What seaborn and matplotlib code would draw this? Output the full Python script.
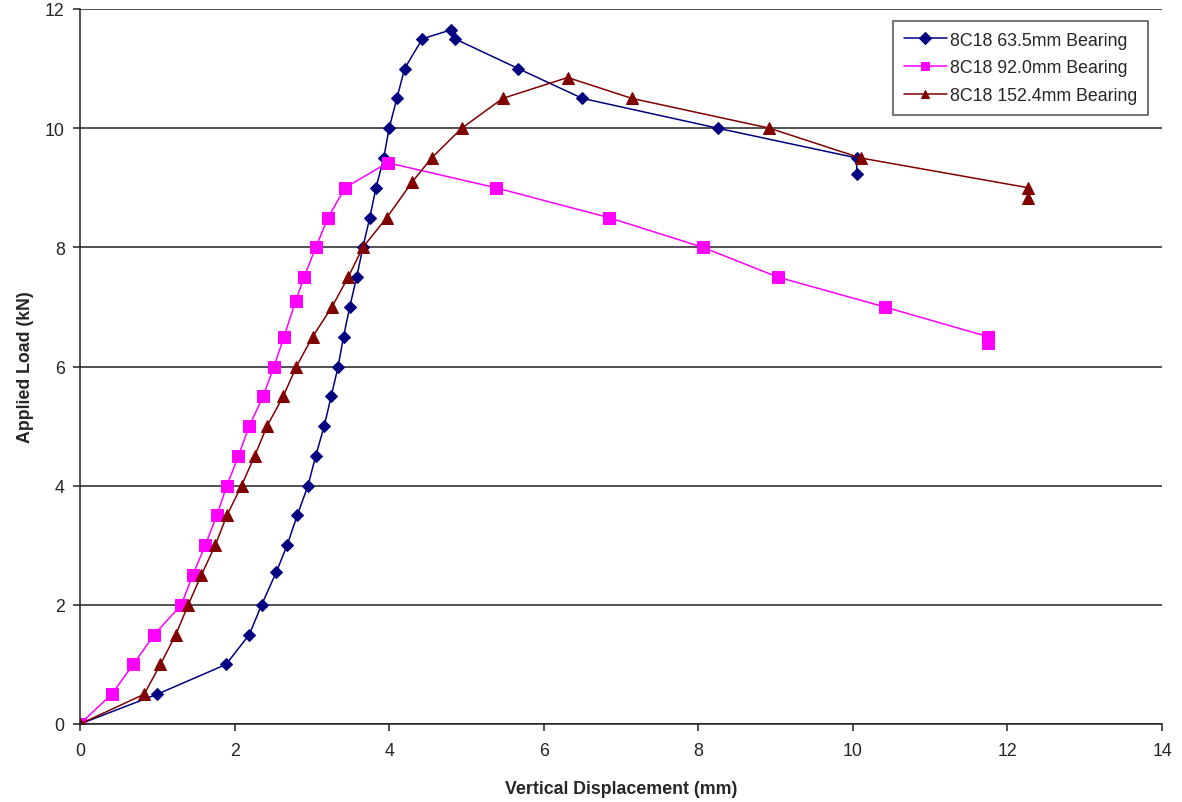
import matplotlib
matplotlib.use("Agg")
import matplotlib.pyplot as plt
import seaborn as sns
import pandas as pd

# ---- data ----
series_names = ["8C18 63.5mm Bearing", "8C18 92.0mm Bearing", "8C18 152.4mm Bearing"]

x_635 = [0, 1.0, 1.89, 2.19, 2.35, 2.54, 2.68, 2.81, 2.95, 3.05, 3.16, 3.25, 3.34, 3.41,
         3.49, 3.58, 3.66, 3.75, 3.83, 3.93, 4.0, 4.1, 4.2, 4.43, 4.8, 4.85, 5.67, 6.5,
         8.25, 10.05, 10.05]
y_635 = [0, 0.5, 1.0, 1.5, 2.0, 2.55, 3.0, 3.5, 4.0, 4.5, 5.0, 5.5, 6.0, 6.5,
         7.0, 7.5, 8.0, 8.5, 9.0, 9.5, 10.0, 10.5, 11.0, 11.5, 11.65, 11.5, 11.0, 10.5,
         10.0, 9.5, 9.23]

x_920 = [0, 0.41, 0.69, 0.96, 1.31, 1.46, 1.62, 1.77, 1.90, 2.05, 2.19, 2.37, 2.51, 2.64,
         2.79, 2.9, 3.05, 3.21, 3.43, 3.98, 5.38, 6.84, 8.06, 9.03, 10.41, 11.75, 11.75]
y_920 = [0, 0.5, 1.0, 1.5, 2.0, 2.5, 3.0, 3.5, 4.0, 4.5, 5.0, 5.5, 6.0, 6.5,
         7.1, 7.5, 8.0, 8.5, 9.0, 9.42, 9.0, 8.5, 8.0, 7.5, 7.0, 6.5, 6.4]

x_1524 = [0, 0.83, 1.04, 1.24, 1.40, 1.57, 1.75, 1.90, 2.09, 2.26, 2.42, 2.63, 2.80, 3.01,
          3.26, 3.47, 3.66, 3.97, 4.3, 4.55, 4.94, 5.47, 6.31, 7.14, 8.92, 10.1, 12.27, 12.27]
y_1524 = [0, 0.5, 1.0, 1.5, 2.0, 2.5, 3.0, 3.5, 4.0, 4.5, 5.0, 5.5, 6.0, 6.5,
          7.0, 7.5, 8.0, 8.5, 9.1, 9.5, 10.0, 10.5, 10.85, 10.5, 10.0, 9.5, 9.0, 8.83]

x_ticks = [0, 2, 4, 6, 8, 10, 12, 14]
y_ticks = [0, 2, 4, 6, 8, 10, 12]

# ---- styling ----
sns.set_style("white")
plt.rcParams["font.family"] = ["Liberation Sans", "DejaVu Sans"]
FS = 12.8

frames = []
for name, xs, ys in [(series_names[0], x_635, y_635),
                     (series_names[1], x_920, y_920),
                     (series_names[2], x_1524, y_1524)]:
    frames.append(pd.DataFrame({"disp": xs, "load": ys, "series": name,
                                "order": range(len(xs))}))
df = pd.concat(frames, ignore_index=True)

colors = {series_names[0]: "#000080", series_names[1]: "#FF00FF", series_names[2]: "#800000"}
markers = {series_names[0]: "D", series_names[1]: "s", series_names[2]: "^"}
msizes = {series_names[0]: 6.5, series_names[1]: 8.5, series_names[2]: 8.5}

fig = plt.figure(figsize=(11.82, 8.03), dpi=100)
ax = fig.add_axes([80 / 1182, 1 - 725 / 803, 1082 / 1182, 715 / 803])

for name in series_names:
    sub = df[df["series"] == name]
    sns.lineplot(data=sub, x="disp", y="load", ax=ax, sort=False, estimator=None,
                 color=colors[name], marker=markers[name], markersize=msizes[name],
                 markeredgecolor=colors[name], linewidth=1.1, label=name)

ax.set_xlim(0, 14)
ax.set_ylim(0, 12)
ax.set_xticks(x_ticks)
ax.set_yticks(y_ticks)
ax.set_xticklabels([str(v) for v in x_ticks], fontsize=FS)
ax.set_yticklabels([str(v) for v in y_ticks], fontsize=FS)
ax.yaxis.grid(True, color="#222222", linewidth=1.1)
ax.xaxis.grid(False)
ax.set_axisbelow(True)
for s in ["top", "right"]:
    ax.spines[s].set_visible(False)
for s in ["left", "bottom"]:
    ax.spines[s].set_color("#222222")
    ax.spines[s].set_linewidth(1.1)
ax.tick_params(axis="both", direction="out", length=5, width=1.1, color="#222222",
               bottom=True, left=True)
ax.tick_params(axis="x", pad=8)
ax.tick_params(axis="y", pad=6)

ax.set_xlabel("Vertical Displacement (mm)", fontsize=FS, fontweight="bold", labelpad=15)
ax.set_ylabel("Applied Load (kN)", fontsize=FS, fontweight="bold", labelpad=8)

leg = ax.legend(loc="upper right", bbox_to_anchor=((1148 - 80) / 1082, (725 - 22) / 715),
                borderaxespad=0, fontsize=FS, frameon=True, fancybox=False,
                edgecolor="#222222", handlelength=2.4, handletextpad=0.2,
                labelspacing=0.6, borderpad=0.6)
leg.get_frame().set_linewidth(1.1)
for h in leg.legend_handles:
    h.set_markersize(6)

fig.savefig("out.png", dpi=100)
